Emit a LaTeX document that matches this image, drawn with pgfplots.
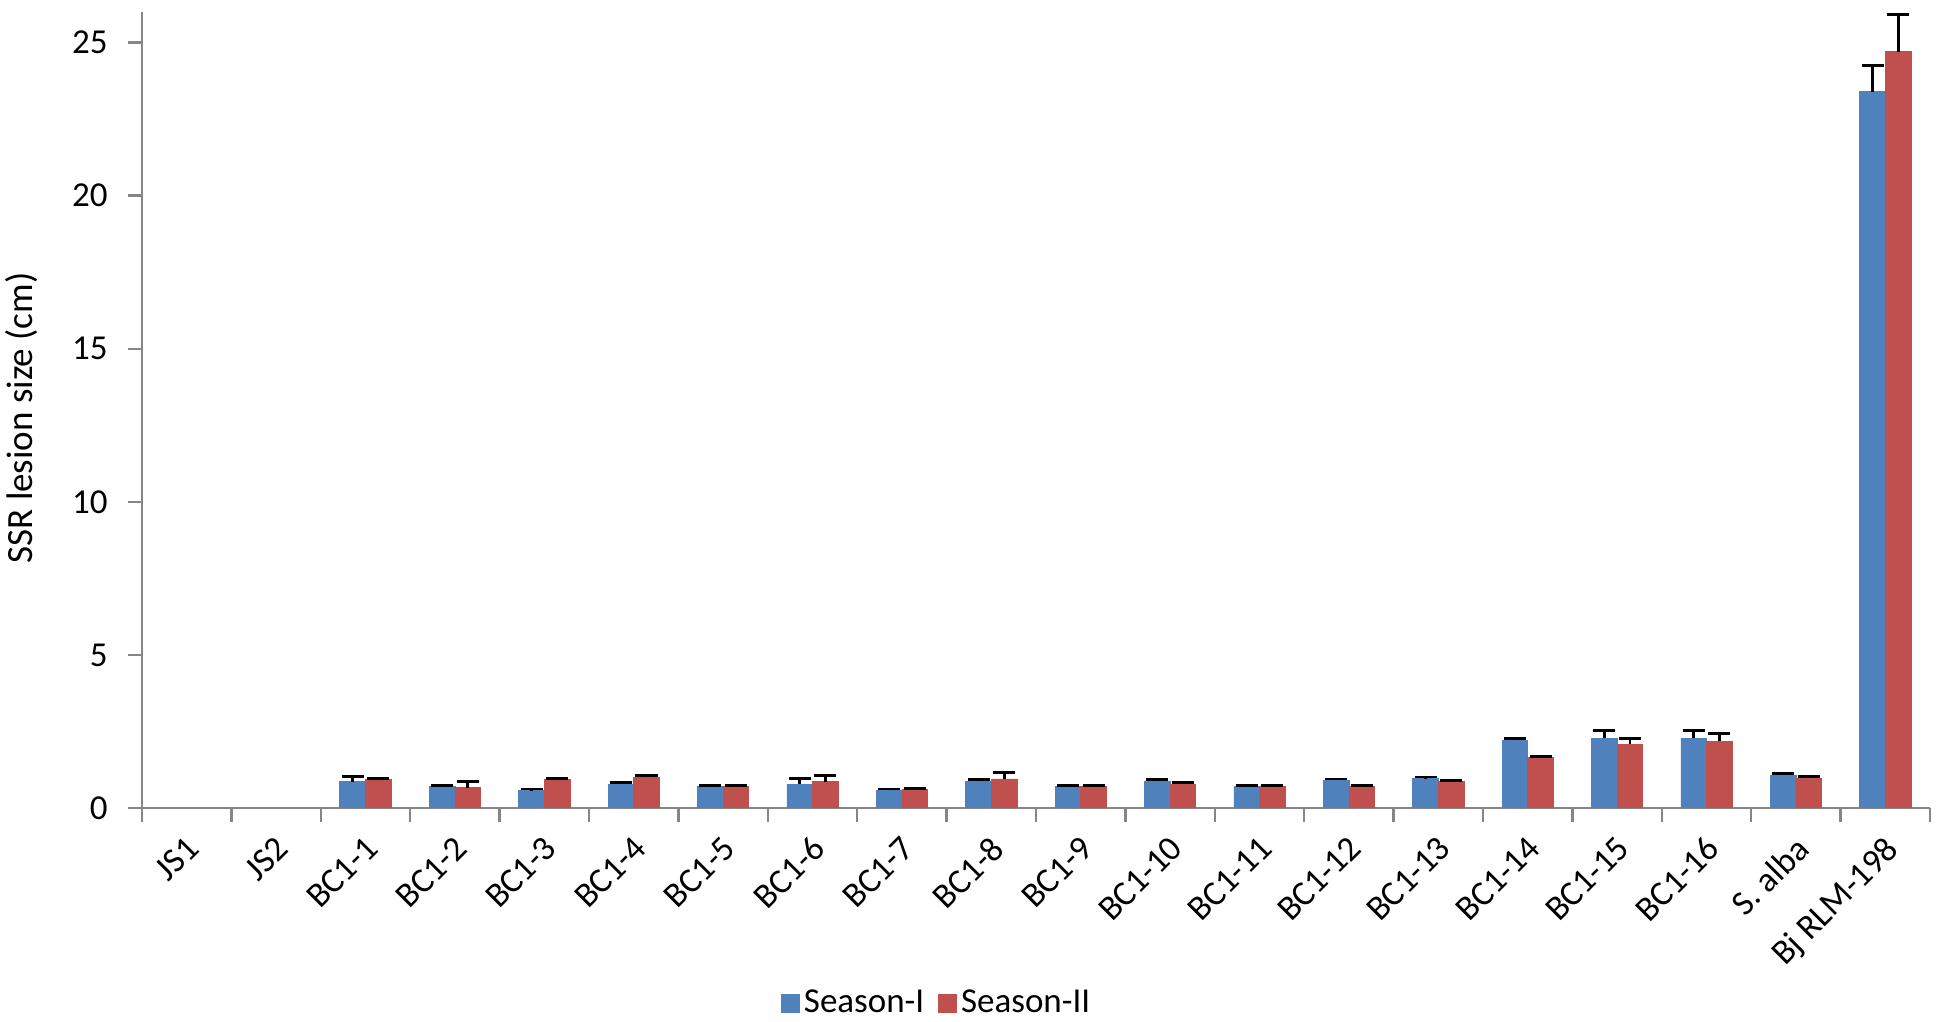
\documentclass[border=0pt]{standalone}
\usepackage{pgfplots}
\pgfplotsset{compat=1.18}
\usepackage{fontspec}
\setmainfont{Carlito}
\definecolor{sblue}{HTML}{4F81BD}
\definecolor{sred}{HTML}{C0504D}
\definecolor{axgray}{HTML}{868686}
\begin{document}
\begin{tikzpicture}
\begin{axis}[
  scale only axis, width=894pt, height=398pt,
  xmin=-0.5, xmax=19.5, ymin=0, ymax=26,
  axis x line*=bottom, axis y line*=left,
  axis line style={axgray, line width=1.2pt, -},
  ybar=0pt, bar width=12.8pt,
  xtick={-0.5,0.5,...,19.5},
  xticklabels={},
  extra x ticks={0,...,19},
  extra x tick labels={JS1,JS2,BC1-1,BC1-2,BC1-3,BC1-4,BC1-5,BC1-6,BC1-7,BC1-8,BC1-9,BC1-10,BC1-11,BC1-12,BC1-13,BC1-14,BC1-15,BC1-16,S. alba,Bj RLM-198},
  extra x tick style={major tick length=0pt, tick style={draw=none},
    tick label style={yshift=-13pt, xshift=-1pt, rotate=45, anchor=north east, inner sep=0pt}},
  major tick length=7pt,
  tick align=outside,
  ytick={0,5,10,15,20,25},
  yticklabels={0,5,10,15,20,25},
  tick style={axgray, line width=1.2pt},
  tick label style={font=\fontsize{17.5}{20}\selectfont},
  yticklabel style={anchor=east, inner sep=0pt, xshift=-10pt},
  every axis y label/.style={at={(axis description cs:0,0.49)}, anchor=center, xshift=-60pt, rotate=90, font=\fontsize{18.5}{22}\selectfont},
  ylabel={SSR lesion size (cm)},
  legend style={draw=none, at={(axis description cs:0.445,0)}, anchor=center, yshift=-97.5pt,
    legend columns=2, font=\fontsize{17.5}{20}\selectfont,
    /tikz/every even column/.append style={column sep=5pt}},
  legend image code/.code={\fill[#1] (0pt,-4.5pt) rectangle (9pt,4.5pt);},
  error bars/error bar style={black, line width=1.4pt},
  error bars/error mark options={black, rotate=90, mark size=5.5pt, line width=1.4pt},
]
\addplot[fill=sblue, draw=sblue, error bars/.cd, y dir=plus, y explicit] coordinates {
  (2,0.86) +- (0,0.18)
  (3,0.69) +- (0,0.04)
  (4,0.57) +- (0,0.05)
  (5,0.78) +- (0,0.04)
  (6,0.69) +- (0,0.04)
  (7,0.78) +- (0,0.19)
  (8,0.58) +- (0,0.04)
  (9,0.88) +- (0,0.04)
  (10,0.69) +- (0,0.04)
  (11,0.88) +- (0,0.05)
  (12,0.69) +- (0,0.04)
  (13,0.90) +- (0,0.05)
  (14,0.96) +- (0,0.05)
  (15,2.22) +- (0,0.04)
  (16,2.28) +- (0,0.26)
  (17,2.28) +- (0,0.26)
  (18,1.08) +- (0,0.04)
  (19,23.4) +- (0,0.85)
};
\addplot[fill=sred, draw=sred, error bars/.cd, y dir=plus, y explicit] coordinates {
  (2,0.92) +- (0,0.04)
  (3,0.66) +- (0,0.20)
  (4,0.92) +- (0,0.04)
  (5,1.00) +- (0,0.05)
  (6,0.69) +- (0,0.04)
  (7,0.86) +- (0,0.20)
  (8,0.60) +- (0,0.03)
  (9,0.95) +- (0,0.20)
  (10,0.69) +- (0,0.04)
  (11,0.77) +- (0,0.05)
  (12,0.69) +- (0,0.04)
  (13,0.69) +- (0,0.05)
  (14,0.87) +- (0,0.04)
  (15,1.65) +- (0,0.04)
  (16,2.09) +- (0,0.18)
  (17,2.18) +- (0,0.25)
  (18,0.98) +- (0,0.04)
  (19,24.7) +- (0,1.22)
};
\legend{Season-I,Season-II}
\end{axis}
\pgfresetboundingbox
\path (-71pt,-107pt) rectangle (906.5pt,404pt);
\end{tikzpicture}
\end{document}
